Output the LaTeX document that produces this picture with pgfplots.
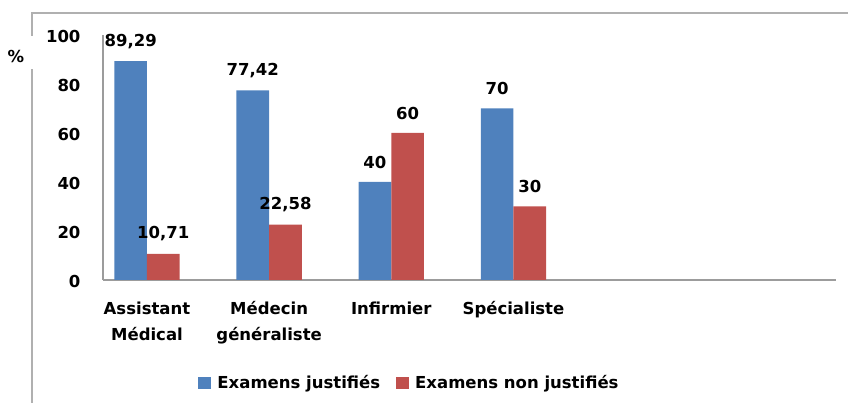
\documentclass[border=0pt]{standalone}
\usepackage{pgfplots}
\pgfplotsset{compat=1.18}
\usepackage{fontspec}
\setmainfont{DejaVu Sans}
\definecolor{cblue}{HTML}{4F81BD}
\definecolor{cred}{HTML}{C0504D}
\definecolor{cgrid}{HTML}{9C9C9C}
\begin{document}
\begin{tikzpicture}[font=\fontsize{16.5}{19}\selectfont\bfseries]
\useasboundingbox (-103pt,-123pt) rectangle (745pt,280pt);
% outer frame
\draw[cgrid!80, line width=1.2pt] (-71pt,-123pt) -- (-71pt,211pt);
\draw[cgrid!80, line width=1.2pt] (-71pt,244pt) -- (-71pt,267pt) -- (745pt,267pt);
\node at (-87pt,223pt) {\%};
\begin{axis}[
  at={(0pt,0pt)}, anchor=south west,
  width=733pt, height=245pt, scale only axis,
  ybar=0pt, bar width=0.2675,
  xmin=-0.36, xmax=5.64, ymin=0, ymax=100,
  xtick={0,1,2,3},
  xticklabels={{Assistant\\Médical},{Médecin\\généraliste},{Infirmier},{Spécialiste}},
  xticklabel style={align=center, font=\fontsize{16.5}{26}\selectfont\bfseries, yshift=-18pt},
  ytick={0,20,40,60,80,100},
  yticklabel style={xshift=-19pt, yshift=-1pt},
  /pgf/number format/assume math mode=true,
  /pgf/number format/use comma,
  /pgf/number format/fixed, /pgf/number format/precision=2,
  axis x line*=bottom, axis y line*=left,
  axis line style={cgrid, line width=1.3pt, -},
  major tick length=0pt,
  nodes near coords,
  every node near coord/.append style={anchor=center, yshift=20pt, font=\fontsize{16.5}{19}\selectfont\bfseries},
  legend style={at={(308.5pt,-103pt)}, anchor=center, draw=none, legend columns=2,
    /tikz/every even column/.append style={column sep=10pt},
    nodes={inner xsep=6pt}},
  legend image code/.code={\fill[#1] (0pt,-6pt) rectangle (13pt,6pt);},
  clip=false,
]
\addplot[fill=cblue, draw=none] coordinates {(0,89.29) (1,77.42) (2,40) (3,70)};
\addplot[fill=cred, draw=none] coordinates {(0,10.71) (1,22.58) (2,60) (3,30)};
\legend{Examens justifiés, Examens non justifiés}
\end{axis}
\end{tikzpicture}
\end{document}
